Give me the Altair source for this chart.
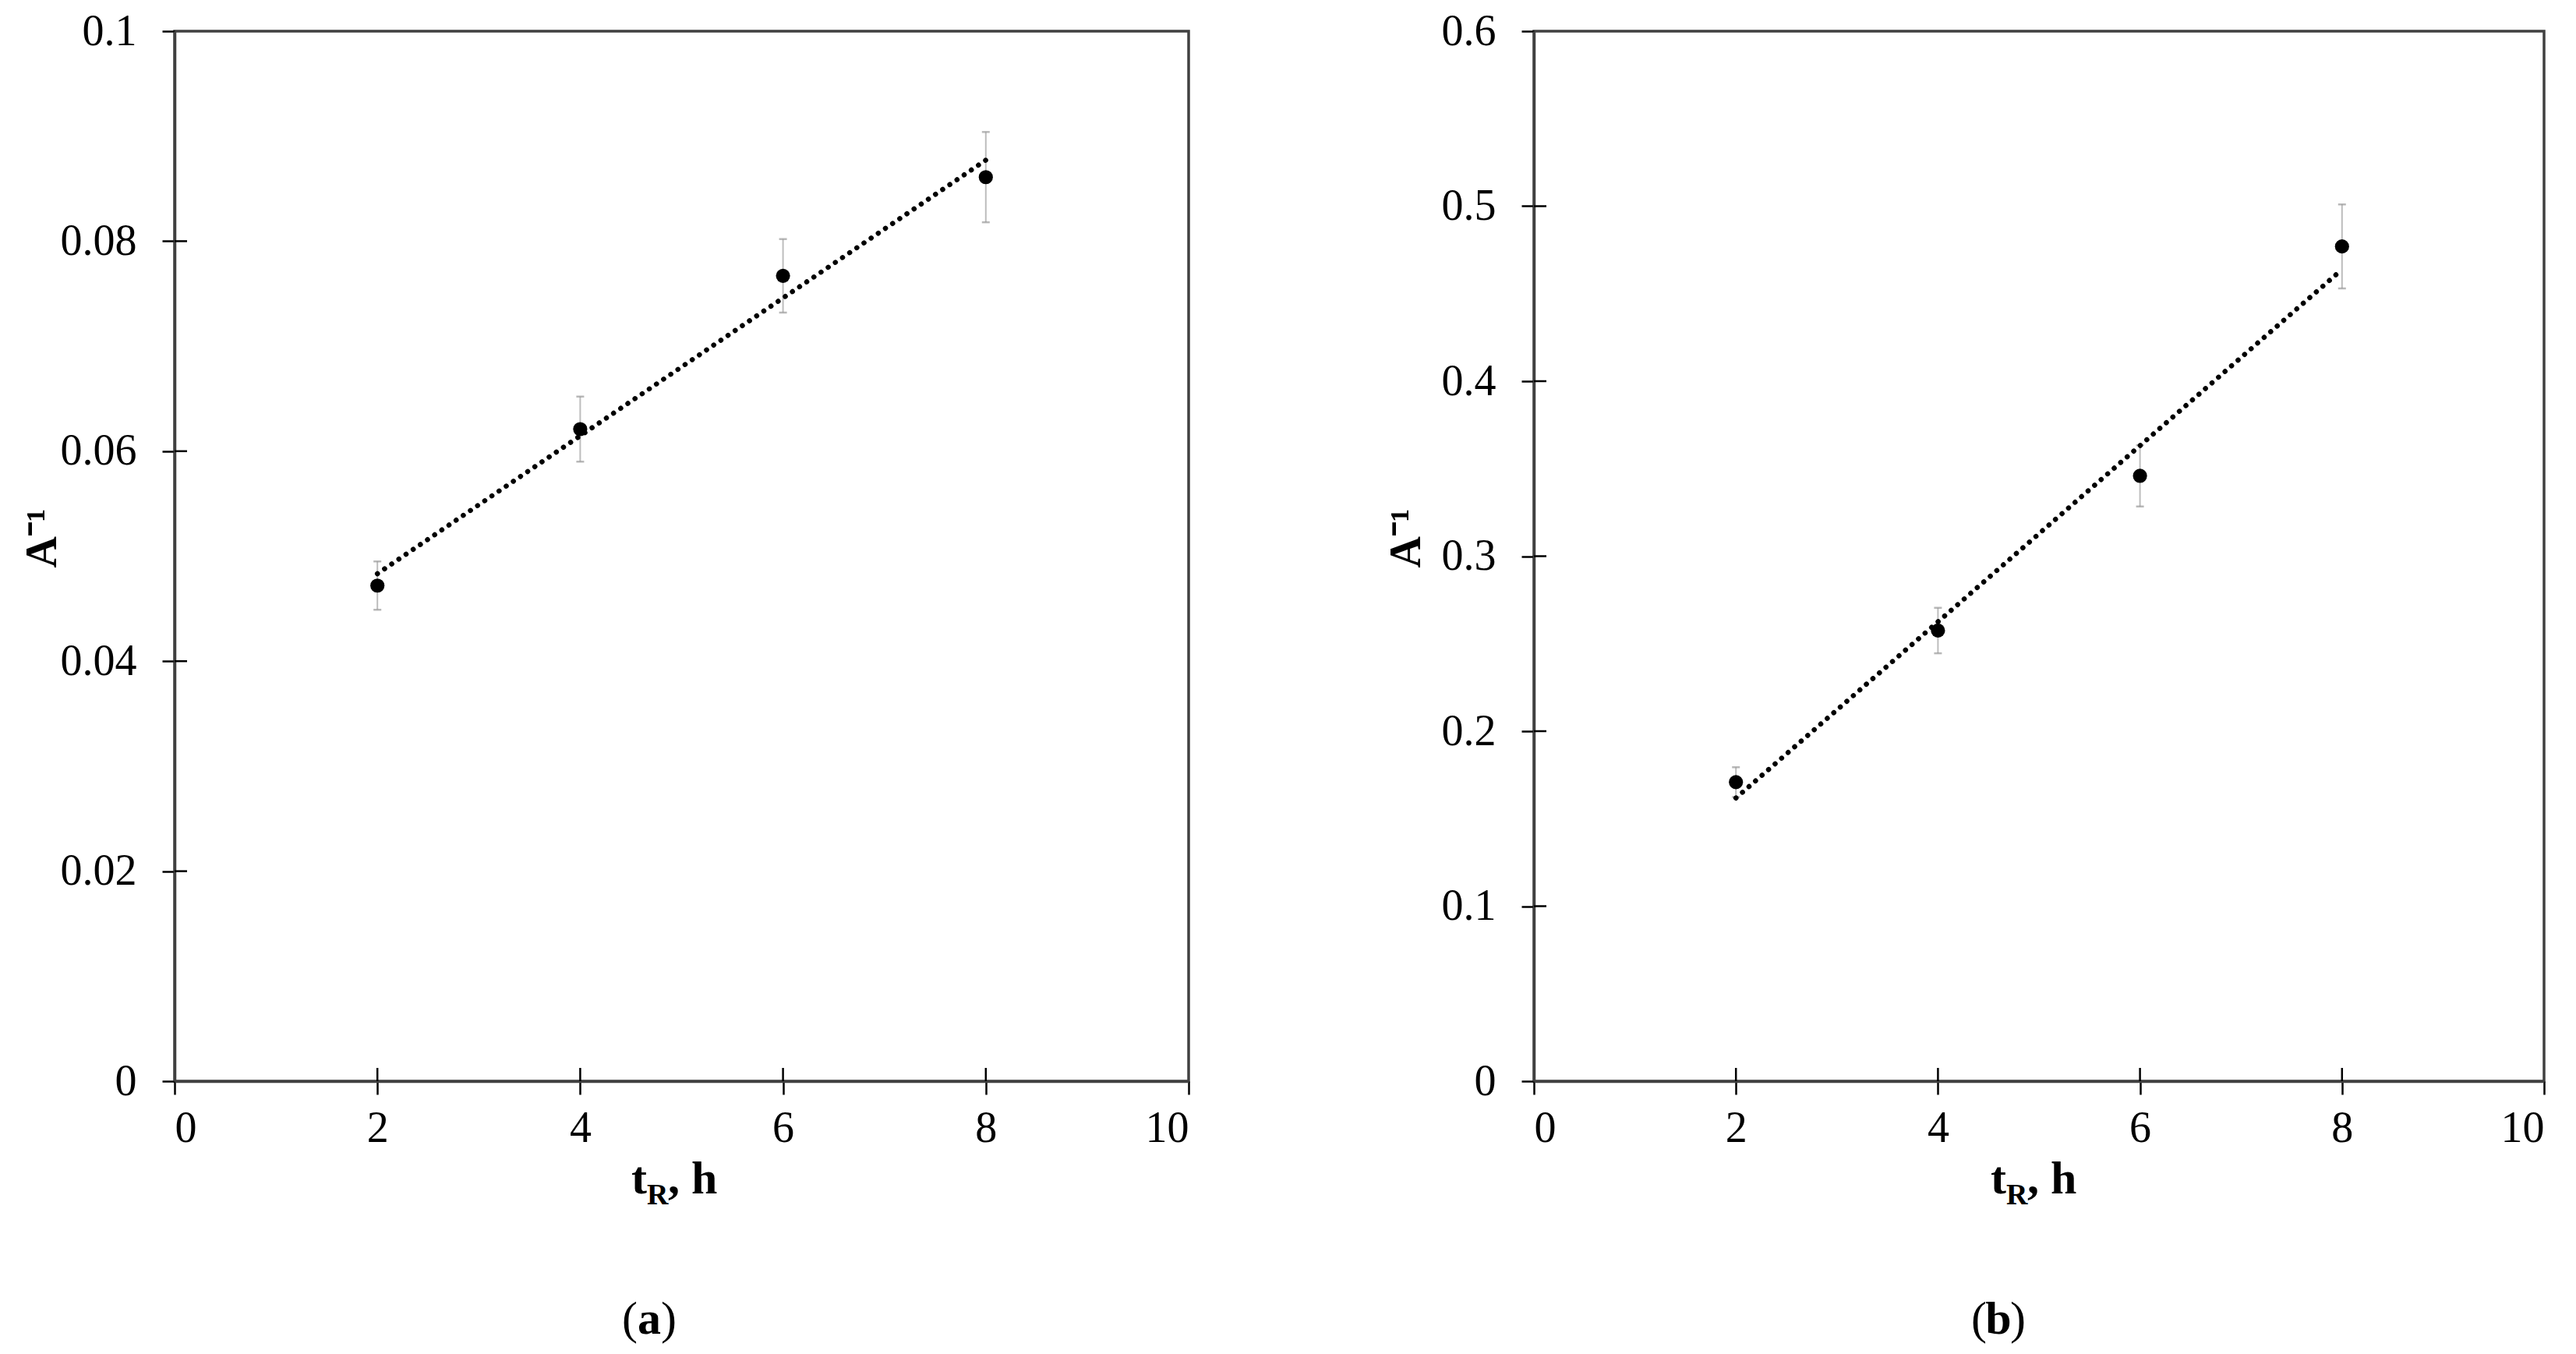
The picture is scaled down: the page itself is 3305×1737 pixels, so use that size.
import altair as alt
import pandas as pd

# ---------------- data ----------------
t_hours = [2, 4, 6, 8]
a_inv_a = [0.0472, 0.0621, 0.0767, 0.0861]
err_a = [0.0023, 0.0031, 0.0035, 0.0043]
a_inv_b = [0.1709, 0.2575, 0.3459, 0.4770]
err_b = [0.0085, 0.0130, 0.0175, 0.0240]

x_ticks = [0, 2, 4, 6, 8, 10]
x_inner_ticks = [2, 4, 6, 8]
y_ticks_a = [0, 0.02, 0.04, 0.06, 0.08, 0.1]
y_inner_a = [0.02, 0.04, 0.06, 0.08]
y_ticks_b = [0, 0.1, 0.2, 0.3, 0.4, 0.5, 0.6]
y_inner_b = [0.1, 0.2, 0.3, 0.4, 0.5]

x_title_parts = ["t", "R", ", h"]
y_title = "A\u207b\u00b9"
panel_letters = ["a", "b"]

FONT = "Liberation Serif"
H = 1347
FS = 56


def panel(vals, errs, yticks, yinner, ymax, letter, title_x0, label_cx, title_pad, W):
    df = pd.DataFrame({"t": t_hours, "A": vals, "e": errs})
    df["lo"] = df["A"] - df["e"]
    df["hi"] = df["A"] + df["e"]

    xs = alt.Scale(domain=[0, 10], nice=False, zero=False)
    ys = alt.Scale(domain=[0, ymax], nice=False, zero=False)

    xaxis = alt.Axis(values=x_ticks, format="~g", title=None, grid=False,
                     tickSize=17, labelPadding=16)
    yaxis = alt.Axis(values=yticks, format="~g", title=y_title, grid=False,
                     tickSize=16, labelPadding=33, titlePadding=title_pad,
                     titleFont=FONT, titleFontSize=FS, titleFontWeight="bold",
                     titleBaseline="alphabetic", titleY=650, titleColor="black")

    base = alt.Chart(df)

    err = base.mark_rule(color="#bdbdbd", strokeWidth=2).encode(
        x=alt.X("t:Q", scale=xs, axis=xaxis),
        y=alt.Y("lo:Q", scale=ys, axis=yaxis),
        y2="hi:Q",
    )
    cap_lo = base.mark_tick(orient="horizontal", size=10, thickness=2.5,
                            color="#9a9a9a").encode(x="t:Q", y="lo:Q")
    cap_hi = base.mark_tick(orient="horizontal", size=10, thickness=2.5,
                            color="#9a9a9a").encode(x="t:Q", y="hi:Q")

    trend = base.transform_regression("t", "A").mark_line(
        color="black", strokeWidth=6.5, strokeDash=[0.1, 11], strokeCap="round"
    ).encode(x="t:Q", y="A:Q")

    pts = base.mark_point(filled=True, size=330, color="black", opacity=1).encode(
        x="t:Q", y="A:Q"
    )

    # inward halves of the crossing tick marks
    xin = alt.Chart(pd.DataFrame({"v": x_inner_ticks})).mark_rule(
        color="black", strokeWidth=2.5
    ).encode(x=alt.X("v:Q", scale=xs), y=alt.value(H), y2=alt.value(H - 17))
    yin = alt.Chart(pd.DataFrame({"v": yinner})).mark_rule(
        color="black", strokeWidth=2.5
    ).encode(y=alt.Y("v:Q", scale=ys), x=alt.value(0), x2=alt.value(16))

    # x-axis title with subscript, built from text marks
    tdf = pd.DataFrame({"s": [x_title_parts[0]]})
    rdf = pd.DataFrame({"s": [x_title_parts[1]]})
    hdf = pd.DataFrame({"s": [x_title_parts[2]]})
    t_main = alt.Chart(tdf).mark_text(font=FONT, fontSize=60, fontWeight="bold",
                                      align="left", baseline="alphabetic",
                                      color="black").encode(
        text="s:N", x=alt.value(title_x0), y=alt.value(1491))
    t_sub = alt.Chart(rdf).mark_text(font=FONT, fontSize=38, fontWeight="bold",
                                     align="left", baseline="alphabetic",
                                     color="black").encode(
        text="s:N", x=alt.value(title_x0 + 20), y=alt.value(1505))
    t_rest = alt.Chart(hdf).mark_text(font=FONT, fontSize=60, fontWeight="bold",
                                      align="left", baseline="alphabetic",
                                      color="black").encode(
        text="s:N", x=alt.value(title_x0 + 47), y=alt.value(1491))

    # panel label "(a)" / "(b)"
    ldf = pd.DataFrame({"s": [letter]})
    lp = alt.Chart(pd.DataFrame({"s": ["("]})).mark_text(
        font=FONT, fontSize=60, align="right", baseline="alphabetic", color="black"
    ).encode(text="s:N", x=alt.value(label_cx - 15), y=alt.value(1671))
    lm = alt.Chart(ldf).mark_text(
        font=FONT, fontSize=60, fontWeight="bold", align="center",
        baseline="alphabetic", color="black"
    ).encode(text="s:N", x=alt.value(label_cx), y=alt.value(1671))
    rp = alt.Chart(pd.DataFrame({"s": [")"]})).mark_text(
        font=FONT, fontSize=60, align="left", baseline="alphabetic", color="black"
    ).encode(text="s:N", x=alt.value(label_cx + 15), y=alt.value(1671))

    return alt.layer(err, cap_lo, cap_hi, trend, pts, xin, yin,
                     t_main, t_sub, t_rest, lp, lm, rp).properties(width=W, height=H)


left = panel(a_inv_a, err_a, y_ticks_a, y_inner_a, 0.1, panel_letters[0], 586, 609, 6, 1301)
right = panel(a_inv_b, err_b, y_ticks_b, y_inner_b, 0.6, panel_letters[1], 586, 596, 28, 1296)

chart = alt.hconcat(left, right, spacing=443, bounds="flush").properties(
    padding={"left": 16, "top": 2, "right": 5, "bottom": 2},
    background="white",
).configure_view(
    stroke="#404040", strokeWidth=3.5
).configure_axis(
    domainColor="#404040", domainWidth=3.5, tickColor="black", tickWidth=2.5,
    labelFont=FONT, labelFontSize=FS, labelColor="black"
)

chart.save("out.html", embed_options={"renderer": "svg", "actions": False})
